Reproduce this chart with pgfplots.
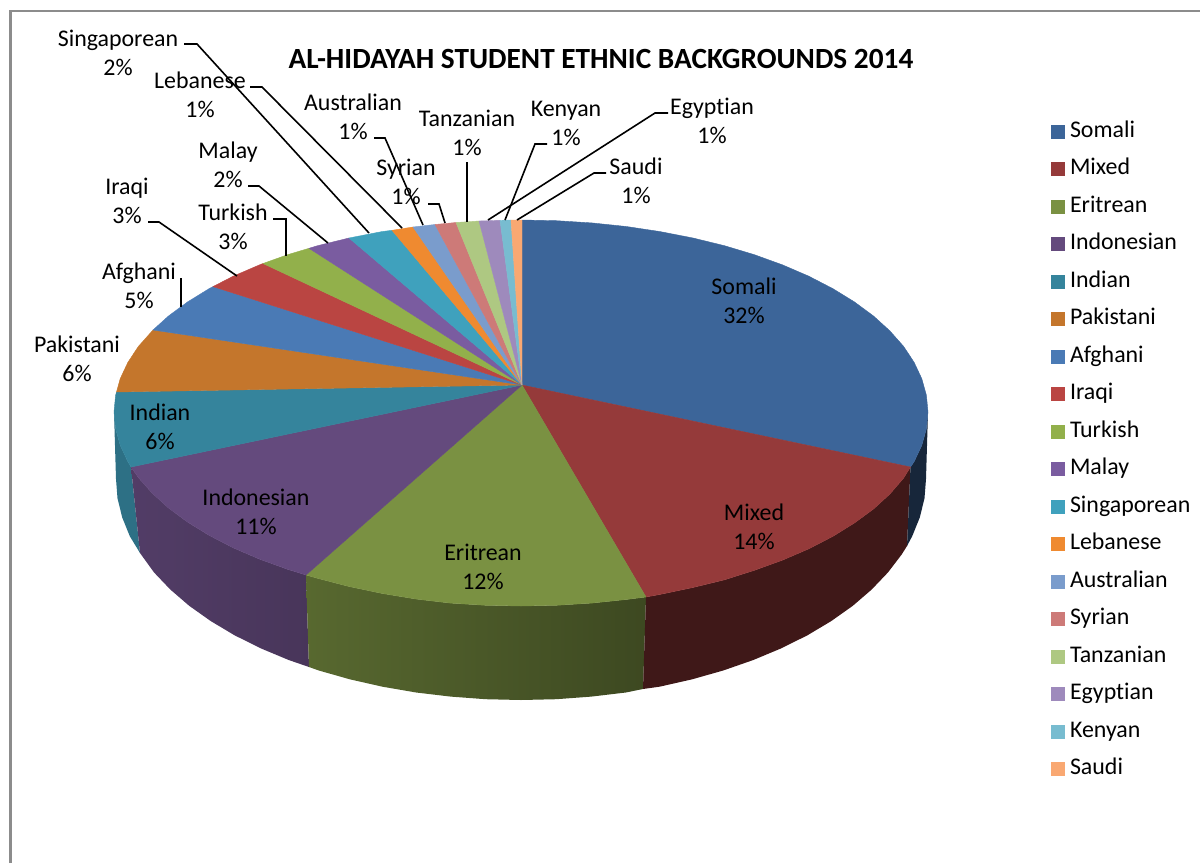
\documentclass[border=0pt]{standalone}
\usepackage{pgfplots}
\pgfplotsset{compat=1.18}
\usepackage{fontspec}
\setmainfont{Carlito}[Ligatures=NoCommon]
\definecolor{cSomali}{HTML}{3C6599}
\definecolor{cMixed}{HTML}{953A3A}
\definecolor{cEritrean}{HTML}{7A9142}
\definecolor{cIndonesian}{HTML}{644A7D}
\definecolor{cIndian}{HTML}{35849C}
\definecolor{cPakistani}{HTML}{C4762C}
\definecolor{cAfghani}{HTML}{4A7AB5}
\definecolor{cIraqi}{HTML}{BA4542}
\definecolor{cTurkish}{HTML}{92B04B}
\definecolor{cMalay}{HTML}{7A5CA0}
\definecolor{cSingaporean}{HTML}{3FA1BD}
\definecolor{cLebanese}{HTML}{EF8A30}
\definecolor{cAustralian}{HTML}{7A9CCC}
\definecolor{cSyrian}{HTML}{CD7A78}
\definecolor{cTanzanian}{HTML}{AEC882}
\definecolor{cEgyptian}{HTML}{9E8ABC}
\definecolor{cKenyan}{HTML}{78BCD0}
\definecolor{cSaudi}{HTML}{F9A872}
\newcommand{\lab}{\fontsize{23.9}{29}\selectfont}
\pgfplotsset{
  slice/.style={fill=#1, draw=#1, line width=0.4pt, area legend,
    legend image code/.code={\fill[#1, draw=none] (0pt,-7pt) rectangle (14pt,7pt); \path[draw=none, fill=none] (0pt,0pt) -- (19pt,0pt);}},
  wall/.style={draw=none, forget plot},
  leader/.style={black, line width=1.6pt, forget plot},
}
\begin{document}
\begin{tikzpicture}
\begin{axis}[
  at={(0pt,0pt)}, anchor=south west,
  scale only axis, width=1200pt, height=863pt,
  xmin=0, xmax=1200, ymin=0, ymax=863, y dir=reverse,
  hide axis,
  legend style={at={(axis cs:1051,117.5)}, anchor=north west, draw=none, fill=none,
    inner sep=0pt, outer sep=0pt, font=\lab, row sep=8.47pt,
    nodes={text height=20pt, text depth=9pt, inner sep=0pt, outer sep=0pt}},
  legend cell align=left,
]
% frame
\addplot[color=black!45, line width=2.5pt, forget plot] coordinates {(10.5,863) (10.5,11) (1200,11)};

% side walls
\addplot[wall, fill=cIndian!85!black] coordinates {
 (114,412) (115.6,428.7) (120.2,445.3) (127.9,461.7) (131,467) (140,553) (129.8,536.2) (122.2,517.4) (117.5,498.3) (116,479) (114,412)};
\addplot[wall, left color=cIndonesian!82!black, right color=cIndonesian!72!black] coordinates {
 (131,467) (138.5,477.7) (152.1,493.1) (168.5,508) (187.6,522.1) (209.2,535.4) (233.2,547.8) (259.4,559.1) (287.6,569.3) (306,575)
 (309,667) (288.7,660) (260.7,648.3) (234.6,635.3) (210.8,621.1) (189.2,605.8) (170.3,589.5) (154,572.4) (140,553) (131,467)};
\addplot[wall, left color=cEritrean!72!black, right color=cEritrean!50!black] coordinates {
 (306,575) (317.5,578.3) (349,586.5) (381.8,593.4) (415.7,599) (450.3,603.1) (485.5,605.3) (521,606) (556.5,605.3) (591.7,603.1) (626.3,599.5) (646,597)
 (643,689) (625.8,692.5) (591.3,696.6) (556.3,699.2) (521,700) (485.7,699.2) (450.7,696.6) (416.2,692.5) (382.5,686.7) (349.8,679.3) (318.5,670.4) (309,667) (306,575)};
\addplot[wall, fill=cMixed!42!black] coordinates {
 (646,597) (660.2,594.4) (693,587.5) (724.5,579.8) (754.4,570.3) (782.6,560.1) (808.8,548.8) (832.8,536.4) (854.4,523) (873.5,509) (889.9,494) (903.5,478.2) (910.5,467)
 (907,546) (901.6,554.6) (888,572.4) (871.7,589.5) (852.8,605.8) (831.2,621.1) (807.4,635.3) (781.3,648.3) (753.3,660) (723.5,670.4) (692.2,679.3) (659.5,686.7) (643,689) (646,597)};
\addplot[wall, fill=cSomali!38!black] coordinates {
 (928,412) (926.4,428.7) (921.8,445.3) (914.1,461.7) (910.5,467) (907,546) (912.2,536.2) (919.8,517.4) (924.5,498.3) (926,479) (928,412)};

% top face
\addplot[slice=cSomali] coordinates {(522,385) (522,220) (556.5,220.7) (591.7,222.9) (626.3,226.5) (660.2,231.6) (693,238) (724.5,245.7) (754.4,254.7) (782.6,264.9) (808.8,276.2) (832.8,288.6) (854.4,301.9) (873.5,316) (889.9,330.9) (903.5,346.3) (914.1,362.3) (921.8,378.7) (926.4,395.3) (928,412) (926.4,428.7) (921.8,445.3) (914.1,461.7) (910.5,467) (522,385)};
\addlegendentry{Somali}
\addplot[slice=cMixed] coordinates {(522,385) (910.5,467) (903.5,478.2) (889.9,494) (873.5,509) (854.4,523) (832.8,536.4) (808.8,548.8) (782.6,560.1) (754.4,570.3) (724.5,579.8) (693,587.5) (660.2,594.4) (646,597) (522,385)};
\addlegendentry{Mixed}
\addplot[slice=cEritrean] coordinates {(522,385) (646,597) (626.3,599.5) (591.7,603.1) (556.5,605.3) (521,606) (485.5,605.3) (450.3,603.1) (415.7,599) (381.8,593.4) (349,586.5) (317.5,578.3) (306,575) (522,385)};
\addlegendentry{Eritrean}
\addplot[slice=cIndonesian] coordinates {(522,385) (306,575) (287.6,569.3) (259.4,559.1) (233.2,547.8) (209.2,535.4) (187.6,522.1) (168.5,508) (152.1,493.1) (138.5,477.7) (131,467) (522,385)};
\addlegendentry{Indonesian}
\addplot[slice=cIndian] coordinates {(522,385) (131,467) (127.9,461.7) (120.2,445.3) (115.6,428.7) (114,412) (115.6,395.3) (116.5,392) (522,385)};
\addlegendentry{Indian}
\addplot[slice=cPakistani] coordinates {(522,385) (116.5,392) (120.2,378.7) (127.9,362.3) (138.5,346.3) (153,330) (522,385)};
\addlegendentry{Pakistani}
\addplot[slice=cAfghani] coordinates {(522,385) (153,330) (168.5,316) (187.6,301.9) (209.2,288.6) (213,286.6) (522,385)};
\addlegendentry{Afghani}
\addplot[slice=cIraqi] coordinates {(522,385) (213,286.6) (233.2,276.2) (259.4,264.9) (263,263.5) (522,385)};
\addlegendentry{Iraqi}
\addplot[slice=cTurkish] coordinates {(522,385) (263,263.5) (287.6,254.7) (309,248.3) (522,385)};
\addlegendentry{Turkish}
\addplot[slice=cMalay] coordinates {(522,385) (309,248.3) (317.5,245.7) (349,238) (522,385)};
\addlegendentry{Malay}
\addplot[slice=cSingaporean] coordinates {(522,385) (349,238) (381.8,231.6) (392,230.3) (522,385)};
\addlegendentry{Singaporean}
\addplot[slice=cLebanese] coordinates {(522,385) (392,230.3) (413,227) (522,385)};
\addlegendentry{Lebanese}
\addplot[slice=cAustralian] coordinates {(522,385) (413,227) (435,224.5) (522,385)};
\addlegendentry{Australian}
\addplot[slice=cSyrian] coordinates {(522,385) (435,224.5) (456,222.5) (522,385)};
\addlegendentry{Syrian}
\addplot[slice=cTanzanian] coordinates {(522,385) (456,222.5) (479,221) (522,385)};
\addlegendentry{Tanzanian}
\addplot[slice=cEgyptian] coordinates {(522,385) (479,221) (500,220.3) (522,385)};
\addlegendentry{Egyptian}
\addplot[slice=cKenyan] coordinates {(522,385) (500,220.3) (511,220) (522,385)};
\addlegendentry{Kenyan}
\addplot[slice=cSaudi] coordinates {(522,385) (511,220) (522,220) (522,385)};
\addlegendentry{Saudi}

% leader lines
\addplot[leader] coordinates {(184,44) (197,44) (369,233)};
\addplot[leader] coordinates {(250,87) (262,87) (402,228)};
\addplot[leader] coordinates {(374,138) (385,138) (423,225)};
\addplot[leader] coordinates {(428,204) (439,204) (445,223)};
\addplot[leader] coordinates {(467,162) (467,222)};
\addplot[leader] coordinates {(488,220) (655,113) (668,113)};
\addplot[leader] coordinates {(505,220) (535,144) (547,144)};
\addplot[leader] coordinates {(517,220) (594,173) (606,173)};
\addplot[leader] coordinates {(248,186) (259,186) (328,243)};
\addplot[leader] coordinates {(148,222) (159,222) (237,276)};
\addplot[leader] coordinates {(273,219) (286,219) (286,256)};
\addplot[leader] coordinates {(181,278) (181,307)};

% labels
\begin{scope}[every node/.style={align=center, font=\lab, inner sep=0pt}]
\node at (axis cs:744,301) {Somali\\32\%};
\node at (axis cs:754,527) {Mixed\\14\%};
\node at (axis cs:483,567) {Eritrean\\12\%};
\node at (axis cs:256,512) {Indonesian\\11\%};
\node at (axis cs:160,427) {Indian\\6\%};
\node at (axis cs:77,359) {Pakistani\\6\%};
\node at (axis cs:139,286) {Afghani\\5\%};
\node at (axis cs:127,201) {Iraqi\\3\%};
\node at (axis cs:233,227) {Turkish\\3\%};
\node at (axis cs:228,165) {Malay\\2\%};
\node at (axis cs:118,53) {Singaporean\\2\%};
\node at (axis cs:200,95) {Lebanese\\1\%};
\node at (axis cs:353,117) {Australian\\1\%};
\node at (axis cs:406,182) {Syrian\\1\%};
\node at (axis cs:467,133) {Tanzanian\\1\%};
\node at (axis cs:566,123) {Kenyan\\1\%};
\node at (axis cs:712,121) {Egyptian\\1\%};
\node at (axis cs:636,181) {Saudi\\1\%};
\node[font=\fontsize{29.3}{32}\selectfont\bfseries] at (axis cs:601,59) {AL-HIDAYAH STUDENT ETHNIC BACKGROUNDS 2014};
\end{scope}
\end{axis}
\path (0pt,0pt) rectangle (1200pt,863pt);
\end{tikzpicture}
\end{document}
